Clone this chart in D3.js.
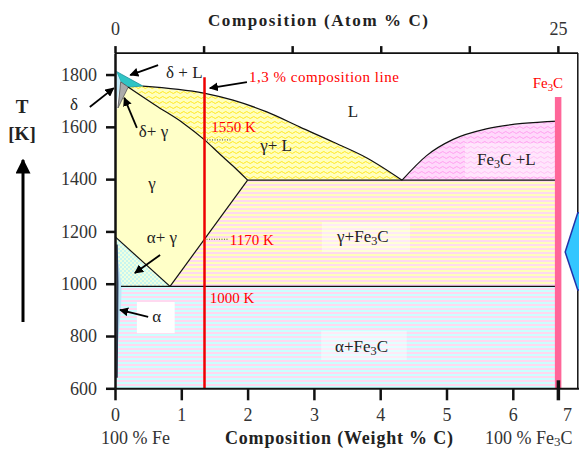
<!DOCTYPE html>
<html>
  <head>
    <style>
      body { margin: 0; background: #fff; }
      text { font-family: "Liberation Serif", "Times New Roman", serif; }
      .axis path, .axis line { stroke: #111; }
      .axis text { font-family: "Liberation Serif", serif; font-size: 18px; fill: #333; }
      .bound { fill: none; stroke: #111; stroke-width: 1.2; }
      .phase { font-size: 17px; fill: #222; }
      .note { font-size: 15px; fill: #f00; }
    </style>
    <script src="https://d3js.org/d3.v7.min.js"></script>
  </head>
  <body>
    <svg width="579" height="451"></svg>
    <script>
      // phase boundaries as [weight % C, T in K]
      var liquidus = [[0.42, 1756], [1.34, 1729], [1.78, 1702], [2.29, 1657], [2.79, 1599], [3.29, 1542], [3.8, 1481], [4.33, 1396]];
      var solidus = [[0.2, 1752], [0.65, 1676], [1.03, 1614], [1.35, 1550], [1.58, 1496], [1.78, 1450], [2.0, 1396]];
      var cementiteLiquidus = [[4.33, 1396], [4.7, 1490], [5.1, 1552], [5.6, 1592], [6.15, 1613], [6.68, 1622]];
      var deltaLiquid = [[0.02, 1812], [0.42, 1756], [0.2, 1752], [0.086, 1772]];
      var delta = [[0, 1812], [0.02, 1812], [0.086, 1772], [0.03, 1700], [0, 1690]];
      var deltaGamma = [[0.086, 1772], [0.2, 1752], [0.045, 1672]];
      var alpha = [[0, 1180], [0.1, 990], [0.09, 900], [0.04, 760], [0, 740]];
      var alphaLine = [[0.03, 1150], [0.04, 1000], [0.035, 800], [0.03, 640]];
      var a3Line = [[0, 1180], [0.83, 990]];
      var acmLine = [[2.0, 1396], [0.83, 990]];
      var eutecticT = 1396;
      var eutectoidT = 990;
      var cementiteWt = 6.68;
      var cementiteTop = 1714;
      var compositionLine = 1.35;
      var compositionTop = 1790;

      var tempTicks = [600, 800, 1000, 1200, 1400, 1600, 1800];
      var weightTicks = [0, 1, 2, 3, 4, 5, 6, 6.68];
      var weightLabels = ["0", "1", "2", "3", "4", "5", "6", "7"];
      var atomTicks = [0, 5, 10, 15, 20, 25];
      var atomLabels = ["0", "", "", "", "", "25"];

      // labels: [text parts, wt, T]; the second of three parts is a subscript
      var phaseLabels = [
        [["δ + L"], 0.77, 1787],
        [["δ"], -0.68, 1664],
        [["δ+ γ"], 0.36, 1561],
        [["γ+ L"], 2.19, 1508],
        [["L"], 3.51, 1637],
        [["γ"], 0.5, 1362],
        [["α+ γ"], 0.48, 1156],
        [["α"], 0.56, 854],
        [["γ+Fe", "3", "C"], 3.35, 1160],
        [["α+Fe", "3", "C"], 3.32, 739],
        [["Fe", "3", "C +L"], 5.46, 1454]
      ];
      var noteLabels = [
        [["Fe", "3", "C"], 6.3, 1748],
        [["1,3 % composition line"], 2.02, 1772],
        [["1550 K"], 1.45, 1580],
        [["1170 K"], 1.73, 1148],
        [["1000 K"], 1.43, 926]
      ];
      var labelBoxes = [
        [0.33, 0.9, 811, 930, 1],
        [3.12, 4.45, 1121, 1236, 0.45],
        [3.11, 4.4, 708, 820, 0.45],
        [5.28, 6.66, 1408, 1538, 0.35]
      ];
      // arrows: [from wt, from T, to wt, to T]
      var arrows = [
        [0.65, 1836, 0.23, 1798],
        [-0.38, 1676, -0.02, 1748],
        [0.33, 1596, 0.14, 1711],
        [0.68, 1110, 0.3, 1041],
        [0.5, 873, 0.075, 900]
      ];
      var redArrow = [1.99, 1771, 1.43, 1748];
      var dotted = [[1.35, 1550, 1.75, 1550], [1.38, 1170, 1.7, 1170]];
      var blueShape = [[6.79, 1121], [6.98, 1271], [7.4, 1271], [7.4, 976], [6.98, 976]];

      var svg = d3.select("svg");
      var x = d3.scaleLinear().domain([0, 7]).range([115, 579.1]);
      var y = d3.scaleLinear().domain([600, 1882]).range([388.3, 53.1]);
      var atom = d3.scaleLinear().domain([0, 25]).range([x(0), x(cementiteWt)]);

      var defs = svg.append("defs");
      function stripes(id, c1, c2) {
        var p = defs.append("pattern").attr("id", id).attr("patternUnits", "userSpaceOnUse")
          .attr("width", 4).attr("height", 4);
        p.append("rect").attr("width", 4).attr("height", 4).attr("fill", c2);
        p.append("rect").attr("width", 4).attr("height", 2).attr("fill", c1);
      }
      function waves(id, bg, fg) {
        var p = defs.append("pattern").attr("id", id).attr("patternUnits", "userSpaceOnUse")
          .attr("width", 7).attr("height", 5);
        p.append("rect").attr("width", 7).attr("height", 5).attr("fill", bg);
        p.append("path").attr("d", "M0,2.5 Q1.75,0.5 3.5,2.5 T7,2.5")
          .attr("fill", "none").attr("stroke", fg).attr("stroke-width", 1);
      }
      stripes("gFe", "#ffd9f0", "#ffffbb");
      stripes("aFe", "#ffd9f0", "#ccffff");
      waves("gL", "#ffffc0", "#ffe81a");
      waves("feL", "#ffd9fb", "#ff9ef0");
      var chk = defs.append("pattern").attr("id", "ag").attr("patternUnits", "userSpaceOnUse")
        .attr("width", 4).attr("height", 4);
      chk.append("rect").attr("width", 4).attr("height", 4).attr("fill", "#c8f6f0");
      chk.append("rect").attr("width", 2).attr("height", 2).attr("fill", "#f0ffe0");
      chk.append("rect").attr("x", 2).attr("y", 2).attr("width", 2).attr("height", 2).attr("fill", "#f0ffe0");

      var line = d3.line().x(function (d) { return x(d[0]); }).y(function (d) { return y(d[1]); });
      var curve = d3.line().curve(d3.curveMonotoneX).x(function (d) { return x(d[0]); }).y(function (d) { return y(d[1]); });

      function area(points, fill, stroke) {
        svg.append("path").attr("d", line(points) + "Z").attr("fill", fill)
          .attr("stroke", stroke || "none").attr("stroke-width", 0.8);
      }

      // phase fields
      area([[2.0, eutecticT], [cementiteWt, eutecticT], [cementiteWt, eutectoidT], [0.83, eutectoidT]], "url(#gFe)");
      area([[0.09, eutectoidT], [cementiteWt, eutectoidT], [cementiteWt, 600], [0.02, 600]], "url(#aFe)");
      area(solidus.concat([[0.83, eutectoidT], [0, 1180], [0, 1660], [0.045, 1672]]), "#ffffc8");
      area(liquidus.concat(solidus.slice().reverse()), "url(#gL)");
      area(cementiteLiquidus.concat([[cementiteWt, eutecticT]]), "url(#feL)");
      area([[0, 1180], [0.83, eutectoidT], [0.09, eutectoidT]], "url(#ag)");
      area(alpha, "#bfe6f7");
      area(deltaLiquid, "#2fc4c4", "#1a8f9a");
      area(delta, "#c6ecfa");
      area(deltaGamma, "#aaaaaa", "#555");

      // boundaries
      svg.append("path").attr("class", "bound").attr("d", curve(liquidus));
      svg.append("path").attr("class", "bound").attr("d", curve(solidus));
      svg.append("path").attr("class", "bound").attr("d", curve(cementiteLiquidus));
      svg.append("path").attr("class", "bound").attr("d", line(a3Line));
      svg.append("path").attr("class", "bound").attr("d", line(acmLine));
      svg.append("path").attr("class", "bound").attr("d", line([[2.0, eutecticT], [cementiteWt, eutecticT]]));
      svg.append("path").attr("class", "bound").attr("d", line([[0.09, eutectoidT], [cementiteWt, eutectoidT]]));
      svg.append("path").attr("d", line(alphaLine)).attr("fill", "none").attr("stroke", "#2a3550").attr("stroke-width", 1.6);

      // label boxes
      labelBoxes.forEach(function (b) {
        svg.append("rect").attr("x", x(b[0])).attr("y", y(b[3]))
          .attr("width", x(b[1]) - x(b[0])).attr("height", y(b[2]) - y(b[3]))
          .attr("fill", "#fff").attr("fill-opacity", b[4]);
      });

      // Fe3C bar
      svg.append("rect").attr("x", x(cementiteWt) - 3).attr("y", y(cementiteTop))
        .attr("width", 6.5).attr("height", y(600) - y(cementiteTop)).attr("fill", "#ff6699");

      // 1.3 % composition line
      svg.append("line").attr("x1", x(compositionLine)).attr("x2", x(compositionLine))
        .attr("y1", y(compositionTop)).attr("y2", y(600))
        .attr("stroke", "#ee0000").attr("stroke-width", 2.5);
      dotted.forEach(function (d) {
        svg.append("line").attr("x1", x(d[0])).attr("y1", y(d[1])).attr("x2", x(d[2])).attr("y2", y(d[3]))
          .attr("stroke", "#444").attr("stroke-width", 1).attr("stroke-dasharray", "1,1.5");
      });

      // axes
      svg.append("g").attr("class", "axis").attr("transform", "translate(" + x(0) + ",0)")
        .call(d3.axisLeft(y).tickValues(tempTicks).tickSize(9).tickSizeOuter(0).tickPadding(9)
          .tickFormat(d3.format("d")))
        .call(function (g) {
          g.select(".domain").attr("stroke-width", 2.5);
          g.selectAll(".tick line").attr("stroke-width", 2.5);
        });
      svg.append("g").attr("class", "axis").attr("transform", "translate(0," + y(600) + ")")
        .call(d3.axisBottom(x).tickValues(weightTicks).tickSize(12).tickSizeOuter(0).tickPadding(8)
          .tickFormat(function (d, i) { return weightLabels[i]; }))
        .call(function (g) {
          g.select(".domain").attr("stroke-width", 2);
          g.selectAll(".tick line").attr("stroke-width", 2.5);
          g.selectAll(".tick").filter(function (d, i) { return i === weightTicks.length - 1; })
            .call(function (t) {
              t.select("line").attr("stroke-width", 3.5).attr("y1", -8);
              t.select("text").attr("x", 9);
            });
        });
      svg.append("g").attr("class", "axis").attr("transform", "translate(0," + y(1882) + ")")
        .call(d3.axisTop(atom).tickValues(atomTicks).tickSize(7).tickSizeOuter(0).tickPadding(11)
          .tickFormat(function (d, i) { return atomLabels[i]; }))
        .call(function (g) {
          g.select(".domain").remove();
          g.selectAll(".tick line").attr("stroke-width", 2.5);
        });
      svg.append("line").attr("x1", x(0)).attr("x2", 578).attr("y1", y(1882)).attr("y2", y(1882))
        .attr("stroke", "#111").attr("stroke-width", 1.8);
      svg.append("line").attr("x1", 577.8).attr("x2", 577.8).attr("y1", y(1882)).attr("y2", y(600))
        .attr("stroke", "#111").attr("stroke-width", 1.5);

      // blue marker at right edge
      svg.append("path").attr("d", line(blueShape) + "Z").attr("fill", "#33c6ff")
        .attr("stroke", "#2233aa").attr("stroke-width", 1.5);

      // titles
      svg.append("text").attr("x", 208).attr("y", 26).attr("font-weight", "bold").attr("font-size", 17)
        .attr("fill", "#222").attr("textLength", 220).text("Composition  (Atom % C)");
      svg.append("text").attr("x", 225).attr("y", 444).attr("font-weight", "bold").attr("font-size", 18)
        .attr("fill", "#222").attr("textLength", 228).text("Composition (Weight % C)");
      svg.append("text").attr("x", 101).attr("y", 444).attr("font-size", 18).attr("fill", "#333").text("100 % Fe");
      var fe = svg.append("text").attr("x", 485).attr("y", 444).attr("font-size", 18).attr("fill", "#333");
      fe.append("tspan").text("100 % Fe");
      fe.append("tspan").attr("font-size", 13).attr("dy", 2).text("3");
      fe.append("tspan").attr("dy", -2).text("C");
      svg.append("text").attr("x", 22).attr("y", 113).attr("text-anchor", "middle").attr("font-weight", "bold")
        .attr("font-size", 19).attr("fill", "#222").text("T");
      svg.append("text").attr("x", 22).attr("y", 140).attr("text-anchor", "middle").attr("font-weight", "bold")
        .attr("font-size", 19).attr("fill", "#222").text("[K]");

      // arrow heads
      defs.append("marker").attr("id", "head").attr("viewBox", "0 0 10 10").attr("refX", 9).attr("refY", 5)
        .attr("markerWidth", 5).attr("markerHeight", 5).attr("orient", "auto")
        .append("path").attr("d", "M0,0L10,5L0,10Z").attr("fill", "#000");
      arrows.concat([redArrow]).forEach(function (a) {
        svg.append("line").attr("x1", x(a[0])).attr("y1", y(a[1])).attr("x2", x(a[2])).attr("y2", y(a[3]))
          .attr("stroke", "#000").attr("stroke-width", 1.8).attr("marker-end", "url(#head)");
      });
      svg.append("line").attr("x1", 23).attr("y1", 322).attr("x2", 23).attr("y2", 160)
        .attr("stroke", "#000").attr("stroke-width", 3).attr("marker-end", "url(#head)");

      function label(l, cls) {
        var t = svg.append("text").attr("class", cls).attr("x", x(l[1])).attr("y", y(l[2]));
        l[0].forEach(function (part, i) {
          var s = t.append("tspan").text(part);
          if (l[0].length > 1 && i === 1) s.attr("font-size", "0.72em").attr("dy", 3);
          if (l[0].length > 1 && i === 2) s.attr("dy", -3);
        });
        return t;
      }
      phaseLabels.forEach(function (l) { label(l, "phase"); });
      noteLabels.forEach(function (l, i) {
        var t = label(l, "note");
        if (i === 1) t.attr("textLength", 150);
      });
    </script>
  </body>
</html>
